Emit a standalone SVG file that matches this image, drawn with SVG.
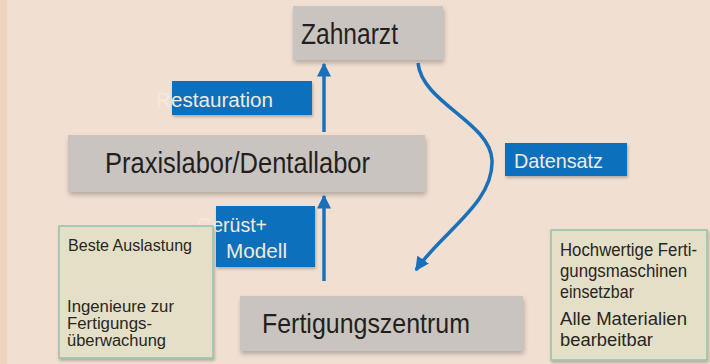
<svg xmlns="http://www.w3.org/2000/svg" width="710" height="364" viewBox="0 0 710 364">
<defs>
<style>
.t{font-family:"Liberation Sans Narrow","Liberation Sans","DejaVu Sans",sans-serif;}
.node{fill:#c9c4bf;filter:url(#sh);}
.node-t{fill:#231f1e;}
.lab{fill:#0b6fbc;filter:url(#sh2);}
.lab-t{fill:#f3eadc;}
.note{fill:#e3e0c7;stroke:#98c4b0;stroke-width:1.6;filter:url(#sh2);}
.note-t{fill:#2a2522;}
.arr{fill:none;stroke:#1a70bb;stroke-width:3.5;}
</style>
<filter id="sh" x="-10%" y="-20%" width="130%" height="150%">
<feGaussianBlur in="SourceAlpha" stdDeviation="2.5"/>
<feOffset dx="1" dy="3" result="b"/>
<feComponentTransfer><feFuncA type="linear" slope="0.25"/></feComponentTransfer>
<feMerge><feMergeNode/><feMergeNode in="SourceGraphic"/></feMerge>
</filter>
<filter id="sh2" x="-10%" y="-20%" width="130%" height="150%">
<feGaussianBlur in="SourceAlpha" stdDeviation="1.5"/>
<feOffset dx="1" dy="2" result="b"/>
<feComponentTransfer><feFuncA type="linear" slope="0.25"/></feComponentTransfer>
<feMerge><feMergeNode/><feMergeNode in="SourceGraphic"/></feMerge>
</filter>
<marker id="ah" viewBox="0 0 10 10" refX="9" refY="5" markerWidth="4" markerHeight="4" orient="auto" markerUnits="strokeWidth">
<path d="M0,0 L10,5 L0,10 z" fill="#1a70bb"/>
</marker>
</defs>
<rect x="0" y="0" width="710" height="364" fill="#f1dfd2"/>
<rect x="0" y="0" width="7" height="364" fill="#efd3bc"/>

<g id="zahnarzt">
<rect class="node" x="293" y="6" width="150" height="54"/>
<text class="t node-t" x="301" y="44" font-size="29" textLength="97" lengthAdjust="spacingAndGlyphs">Zahnarzt</text>
</g>
<g id="praxislabor">
<rect class="node" x="68" y="135" width="357" height="57"/>
<text class="t node-t" x="105" y="173" font-size="29" textLength="265" lengthAdjust="spacingAndGlyphs">Praxislabor/Dentallabor</text>
</g>
<g id="fertigungszentrum">
<rect class="node" x="240" y="296" width="283" height="55"/>
<text class="t node-t" x="262" y="333" font-size="28" textLength="208" lengthAdjust="spacingAndGlyphs">Fertigungszentrum</text>
</g>

<g id="connectors">
<line class="arr" x1="324" y1="132" x2="324" y2="64" marker-end="url(#ah)"/>
<line class="arr" x1="324" y1="281" x2="324" y2="196" marker-end="url(#ah)"/>
<path class="arr" d="M418,63 C422,103 490,122 492,160 C494,203 442,232 416,270" marker-end="url(#ah)"/>
</g>

<g id="label-restauration">
<rect class="lab" x="172" y="81" width="140" height="34"/>
<text class="t lab-t" x="156" y="107" font-size="20" textLength="117" lengthAdjust="spacingAndGlyphs">Restauration</text>
</g>
<g id="label-datensatz">
<rect class="lab" x="505" y="143" width="122" height="33"/>
<text class="t lab-t" x="514" y="168" font-size="21" textLength="89" lengthAdjust="spacingAndGlyphs">Datensatz</text>
</g>
<g id="label-geruest">
<rect class="lab" x="216" y="206" width="99" height="61"/>
<text class="t lab-t" x="197" y="232" font-size="20" textLength="70" lengthAdjust="spacingAndGlyphs">Gerüst+</text>
<text class="t lab-t" x="226" y="258" font-size="20" textLength="61" lengthAdjust="spacingAndGlyphs">Modell</text>
</g>

<g id="note-left">
<rect class="note" x="59" y="226" width="154" height="132"/>
<text class="t note-t" x="68" y="251" font-size="17" textLength="124" lengthAdjust="spacingAndGlyphs">Beste Auslastung</text>
<text class="t note-t" x="67" y="312" font-size="16" textLength="107" lengthAdjust="spacingAndGlyphs">Ingenieure zur</text>
<text class="t note-t" x="67" y="329" font-size="16" textLength="85" lengthAdjust="spacingAndGlyphs">Fertigungs-</text>
<text class="t note-t" x="67" y="346" font-size="16" textLength="99" lengthAdjust="spacingAndGlyphs">überwachung</text>
</g>
<g id="note-right">
<rect class="note" x="551" y="230" width="156" height="130"/>
<text class="t note-t" x="560" y="256" font-size="17.5" textLength="137" lengthAdjust="spacingAndGlyphs">Hochwertige Ferti-</text>
<text class="t note-t" x="560" y="277" font-size="17.5" textLength="127" lengthAdjust="spacingAndGlyphs">gungsmaschinen</text>
<text class="t note-t" x="560" y="298" font-size="17.5" textLength="74" lengthAdjust="spacingAndGlyphs">einsetzbar</text>
<text class="t note-t" x="560" y="325" font-size="17.5" textLength="127" lengthAdjust="spacingAndGlyphs">Alle Materialien</text>
<text class="t note-t" x="560" y="346" font-size="17.5" textLength="93" lengthAdjust="spacingAndGlyphs">bearbeitbar</text>
</g>
</svg>
